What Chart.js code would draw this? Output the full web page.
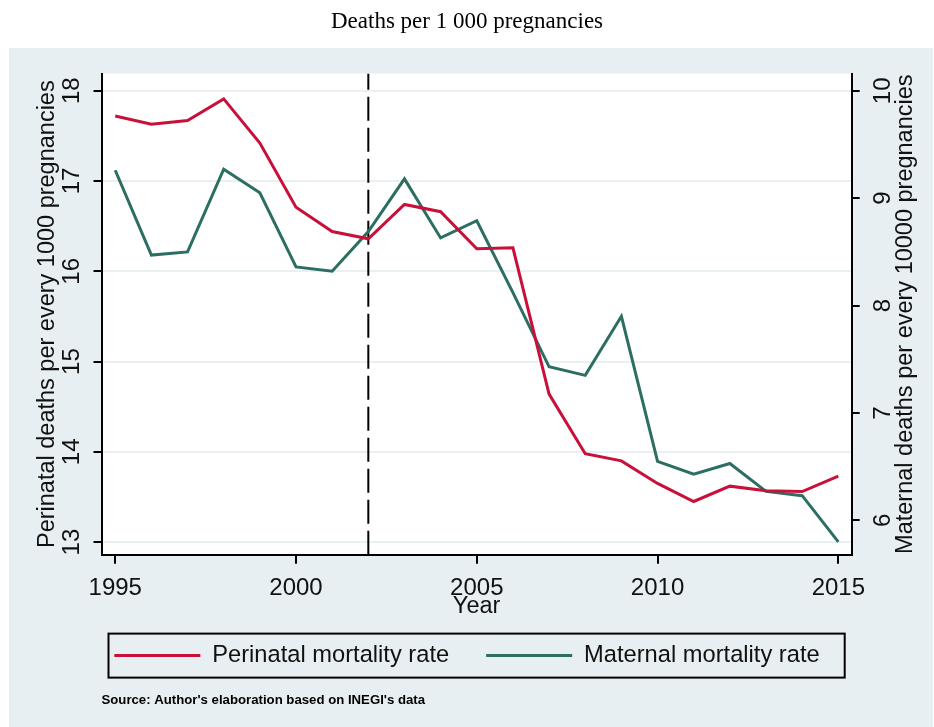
<!DOCTYPE html>
<html>
<head>
<meta charset="utf-8">
<script src="https://cdn.jsdelivr.net/npm/chart.js@4.4.0/dist/chart.umd.min.js"></script>
<style>
  html, body { margin: 0; padding: 0; background: #fff; }
  canvas { display: block; }
</style>
</head>
<body>
<canvas id="chart" width="934" height="727"></canvas>
<script>
// values
const years = [1995, 1996, 1997, 1998, 1999, 2000, 2001, 2002, 2003, 2004, 2005,
               2006, 2007, 2008, 2009, 2010, 2011, 2012, 2013, 2014, 2015];
const perinatal = [17.72, 17.63, 17.67, 17.91, 17.42, 16.71, 16.44, 16.36, 16.74, 16.66, 16.25,
                   16.26, 14.64, 13.98, 13.90, 13.65, 13.45, 13.62, 13.57, 13.56, 13.73];
const maternal = [9.26, 8.47, 8.50, 9.27, 9.05, 8.36, 8.32, 8.69, 9.18, 8.63, 8.79,
                  8.12, 7.43, 7.35, 7.90, 6.55, 6.43, 6.53, 6.27, 6.23, 5.80];

const xTicks = [1995, 2000, 2005, 2010, 2015];
const leftTicks = [13, 14, 15, 16, 17, 18];
const rightTicks = [6, 7, 8, 9, 10];
const breakYear = 2002;

const xRange = [1994.62, 2015.37];
const leftRange = [12.86, 18.19];
const rightRange = [5.68, 10.16];

const red = '#c8103a';
const green = '#2c6e62';
const ink = '#111';
const sans = 'Liberation Sans';
const tickFont = { family: sans, size: 24 };
const titleFont = { family: sans, size: 23.5 };

// background panels, legend frame and the right axis title
const frame = {
  id: 'frame',
  beforeDraw(chart) {
    const { ctx, chartArea: a } = chart;
    ctx.save();
    ctx.fillStyle = '#fff';
    ctx.fillRect(0, 0, chart.width, chart.height);
    ctx.fillStyle = '#e8eff2';
    ctx.fillRect(9, 48, chart.width - 10, chart.height - 48);
    ctx.fillStyle = '#fff';
    ctx.fillRect(a.left, a.top, a.right - a.left, a.bottom - a.top);
    ctx.restore();
  },
  afterDraw(chart) {
    const { ctx, chartArea: a } = chart;
    const hb = chart.legend.legendHitBoxes[0];
    const cy = hb.top + hb.height / 2;
    ctx.save();
    ctx.strokeStyle = '#000';
    ctx.lineWidth = 2;
    ctx.strokeRect(a.left + 7, cy - 22, a.right - a.left - 14, 44);

    const y2 = chart.scales.y2;
    ctx.translate(y2.left + 53.5, (a.top + a.bottom) / 2);
    ctx.rotate(-Math.PI / 2);
    ctx.font = titleFont.size + 'px "' + sans + '"';
    ctx.fillStyle = ink;
    ctx.textAlign = 'center';
    ctx.textBaseline = 'middle';
    ctx.fillText('Maternal deaths per every 10000 pregnancies', 0, 0);
    ctx.restore();
  }
};

new Chart(document.getElementById('chart'), {
  type: 'line',
  data: {
    datasets: [
      {
        label: 'Perinatal mortality rate',
        data: years.map((x, i) => ({ x: x, y: perinatal[i] })),
        yAxisID: 'y',
        borderColor: red,
        backgroundColor: red,
        borderWidth: 3,
        pointRadius: 0,
        tension: 0
      },
      {
        label: 'Maternal mortality rate',
        data: years.map((x, i) => ({ x: x, y: maternal[i] })),
        yAxisID: 'y2',
        borderColor: green,
        backgroundColor: green,
        borderWidth: 3,
        pointRadius: 0,
        tension: 0
      },
      {
        label: 'break',
        data: [{ x: breakYear, y: leftRange[0] }, { x: breakYear, y: leftRange[1] }],
        yAxisID: 'y',
        borderColor: '#000',
        borderWidth: 2,
        borderDash: [24, 7],
        pointRadius: 0
      }
    ]
  },
  options: {
    responsive: false,
    animation: false,
    layout: { padding: 0 },
    plugins: {
      title: {
        display: true,
        text: 'Deaths per 1 000 pregnancies',
        font: { family: 'Liberation Serif', size: 23, weight: 'normal' },
        color: '#000',
        padding: { top: 8, bottom: 38 }
      },
      subtitle: {
        display: true,
        position: 'bottom',
        align: 'start',
        fullSize: false,
        text: "Source: Author's elaboration based on INEGI's data",
        font: { family: sans, size: 13.2, weight: 'bold' },
        color: '#000',
        padding: { top: 15, bottom: 18.7 }
      },
      legend: {
        position: 'bottom',
        labels: {
          filter: item => item.datasetIndex < 2,
          usePointStyle: true,
          pointStyle: 'line',
          pointStyleWidth: 86,
          padding: 37,
          font: { family: sans, size: 23.7 },
          color: ink
        }
      },
      tooltip: { enabled: false }
    },
    scales: {
      x: {
        type: 'linear',
        min: xRange[0],
        max: xRange[1],
        afterBuildTicks: s => { s.ticks = xTicks.map(v => ({ value: v })); },
        afterFit: s => { s.height = 52; },
        ticks: { font: tickFont, color: ink, padding: 10, maxRotation: 0, callback: v => String(v) },
        grid: { drawOnChartArea: false, tickLength: 9, tickColor: '#000', lineWidth: 2 },
        border: { color: '#000', width: 2 },
        title: { display: true, text: 'Year', font: titleFont, color: ink, padding: { top: 0, bottom: -14 } }
      },
      y: {
        position: 'left',
        min: leftRange[0],
        max: leftRange[1],
        afterBuildTicks: s => { s.ticks = leftTicks.map(v => ({ value: v })); },
        afterFit: s => { s.width = 101.5; },
        ticks: { font: tickFont, color: ink, padding: 8, minRotation: 90, maxRotation: 90, crossAlign: 'center' },
        grid: { color: '#e9f0f3', lineWidth: 2, tickLength: 8, tickColor: '#000' },
        border: { color: '#000', width: 2 },
        title: { display: true, text: 'Perinatal deaths per every 1000 pregnancies', font: titleFont, color: ink, padding: { top: 33 } }
      },
      y2: {
        position: 'right',
        min: rightRange[0],
        max: rightRange[1],
        afterBuildTicks: s => { s.ticks = rightTicks.map(v => ({ value: v })); },
        afterFit: s => { s.width = 82.3; },
        ticks: { font: tickFont, color: ink, padding: 10, minRotation: 90, maxRotation: 90, crossAlign: 'center' },
        grid: { drawOnChartArea: false, lineWidth: 2, tickLength: 8, tickColor: '#000' },
        border: { color: '#000', width: 2 }
      }
    }
  },
  plugins: [frame]
});
</script>
</body>
</html>
